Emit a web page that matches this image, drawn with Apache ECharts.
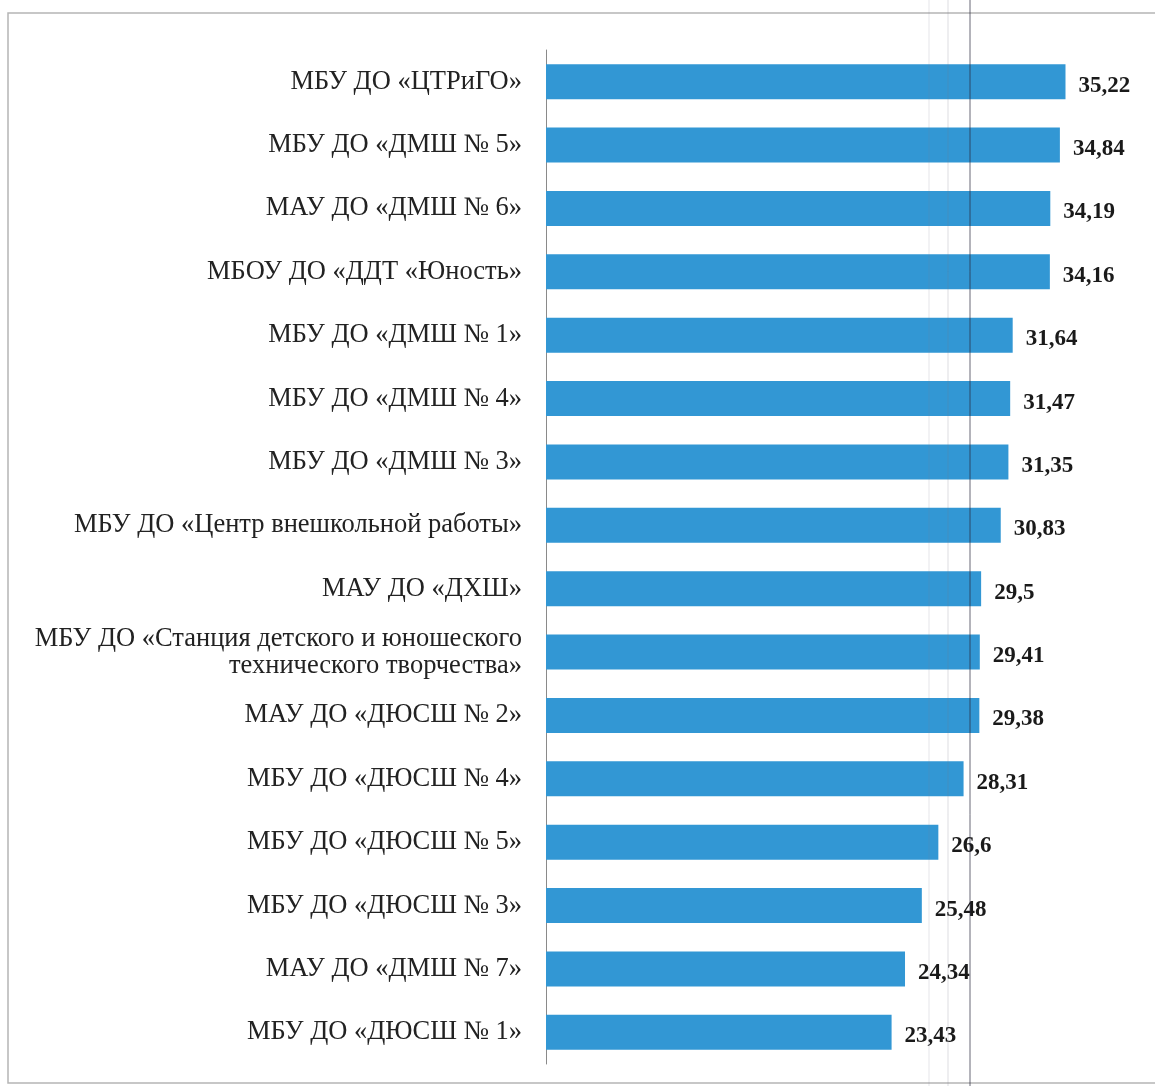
<!DOCTYPE html>
<html>
<head>
<meta charset="utf-8">
<script src="https://cdn.jsdelivr.net/npm/echarts@6/dist/echarts.min.js"></script>
<style>
  html, body { margin: 0; padding: 0; background: #fff; }
  #chart { width: 1155px; height: 1086px; }
</style>
</head>
<body>
<div id="chart"></div>
<script>
// учреждения (сверху вниз)
var categories = [
  'МБУ ДО «ЦТРиГО»',
  'МБУ ДО «ДМШ № 5»',
  'МАУ ДО «ДМШ № 6»',
  'МБОУ ДО «ДДТ «Юность»',
  'МБУ ДО «ДМШ № 1»',
  'МБУ ДО «ДМШ № 4»',
  'МБУ ДО «ДМШ № 3»',
  'МБУ ДО «Центр внешкольной работы»',
  'МАУ ДО «ДХШ»',
  'МБУ ДО «Станция детского и юношеского\nтехнического творчества»',
  'МАУ ДО «ДЮСШ № 2»',
  'МБУ ДО «ДЮСШ № 4»',
  'МБУ ДО «ДЮСШ № 5»',
  'МБУ ДО «ДЮСШ № 3»',
  'МАУ ДО «ДМШ № 7»',
  'МБУ ДО «ДЮСШ № 1»'
]
var values = [35.22, 34.84, 34.19, 34.16, 31.64, 31.47, 31.35, 30.83, 29.5, 29.41, 29.38, 28.31, 26.6, 25.48, 24.34, 23.43]

var chart = echarts.init(document.getElementById('chart'))

// рамка и следы сканирования
function vline(x, color, w) {
  return {
    type: 'line',
    shape: { x1: x, y1: 0, x2: x, y2: 1086 },
    style: { stroke: color, lineWidth: w },
    silent: true,
    z: 100
  }
}

chart.setOption({
  animation: false,
  graphic: [
    {
      type: 'rect',
      shape: { x: 8, y: 13, width: 1170, height: 1070 },
      style: { fill: 'none', stroke: '#b5b5b5', lineWidth: 1.5 },
      silent: true
    },
    vline(929, 'rgba(120,120,140,0.2)', 1),
    vline(948, 'rgba(120,120,140,0.25)', 1),
    vline(970, 'rgba(40,40,60,0.7)', 1)
  ],
  grid: { left: 546, right: 19, top: 50, bottom: 22 },
  xAxis: {
    type: 'value',
    min: 0,
    max: 40,
    show: false
  },
  yAxis: {
    type: 'category',
    inverse: true,
    data: categories,
    axisLine: { lineStyle: { color: '#8a8a8a', width: 1 } },
    axisTick: { length: 6, lineStyle: { color: '#8a8a8a' } },
    axisLabel: {
      margin: 24,
      fontFamily: 'Liberation Serif',
      fontSize: 26.5,
      lineHeight: 27,
      color: '#222',
      align: 'right'
    }
  },
  series: [{
    type: 'bar',
    data: values,
    barWidth: 35,
    itemStyle: { color: '#3297d4' },
    label: {
      show: true,
      position: 'right',
      distance: 13,
      offset: [0, 4],
      fontFamily: 'Liberation Serif',
      fontWeight: 'bold',
      fontSize: 23,
      color: '#1a1a1a',
      formatter: function (p) {
        return String(p.value).replace('.', ',')
      }
    }
  }]
})
</script>
</body>
</html>
